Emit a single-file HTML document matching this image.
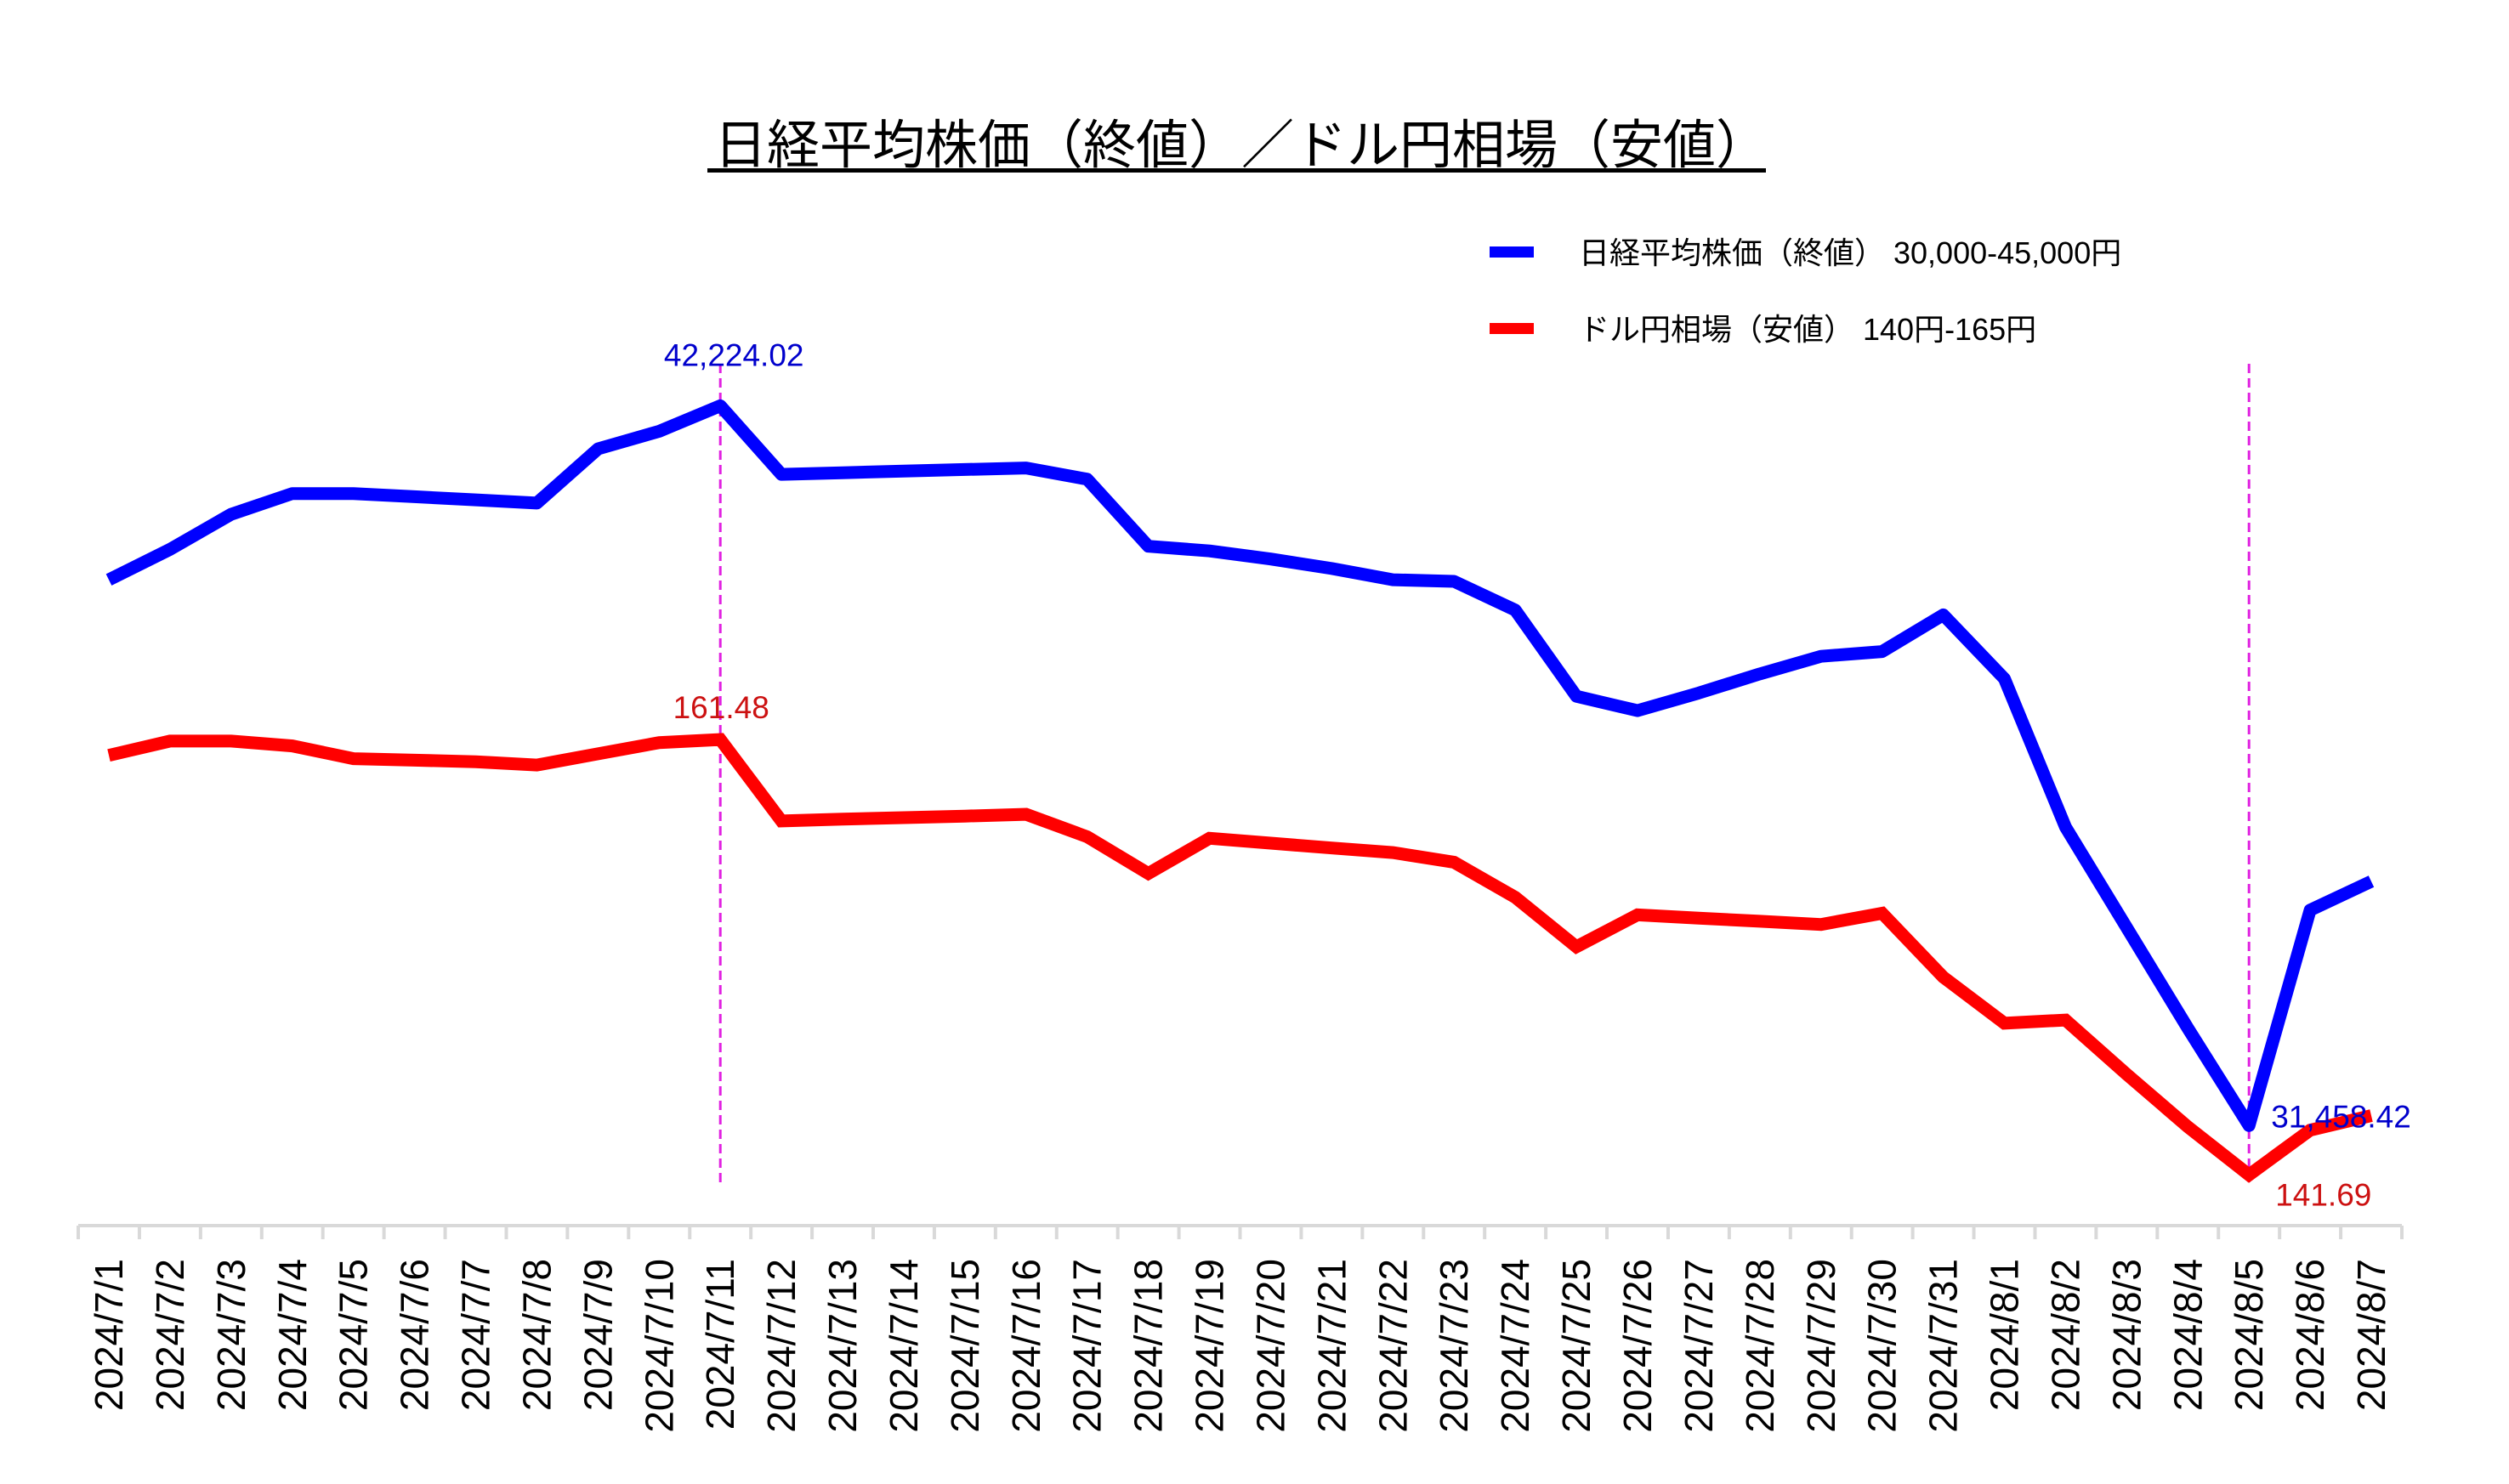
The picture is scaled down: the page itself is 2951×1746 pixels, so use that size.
<!DOCTYPE html>
<html><head><meta charset="utf-8"><style>
html,body{margin:0;padding:0;background:#fff;}
svg{display:block;font-family:"Liberation Sans","Noto Sans CJK JP",sans-serif;}
</style></head><body>
<svg id="chart" width="2951" height="1746" viewBox="0 0 2951 1746" xmlns="http://www.w3.org/2000/svg">
<rect width="2951" height="1746" fill="#fff"/>
<text x="1460" y="192" text-anchor="middle" font-size="62" fill="#000">日経平均株価（終値）／ドル円相場（安値）</text>
<rect x="832" y="198" width="1245" height="5" fill="#000"/>
<g>
<rect x="1752" y="290" width="52" height="13" fill="#0000ff"/>
<text x="1857" y="310" font-size="36" fill="#000">日経平均株価（終値） 30,000-45,000円</text>
<rect x="1752" y="380" width="52" height="13" fill="#ff0000"/>
<text x="1857" y="400" font-size="36" fill="#000">ドル円相場（安値） 140円-165円</text>
</g>
<g id="axis"></g>
<g id="series"></g>
</svg>
<script>
const categories = ["2024/7/1","2024/7/2","2024/7/3","2024/7/4","2024/7/5","2024/7/6","2024/7/7","2024/7/8","2024/7/9","2024/7/10","2024/7/11","2024/7/12","2024/7/13","2024/7/14","2024/7/15","2024/7/16","2024/7/17","2024/7/18","2024/7/19","2024/7/20","2024/7/21","2024/7/22","2024/7/23","2024/7/24","2024/7/25","2024/7/26","2024/7/27","2024/7/28","2024/7/29","2024/7/30","2024/7/31","2024/8/1","2024/8/2","2024/8/3","2024/8/4","2024/8/5","2024/8/6","2024/8/7"];
const nikkei = [39622,40076,40601,40911,40911,40863,40816,40768,41579,41842,42224.02,41198,41222,41246,41270,41293,41126,40123,40052,39932,39789,39622,39598,39168,37879,37664,37927,38213,38476,38548,39097,38142,35922,34418,32914,31458.42,34680,35110];
const usdjpy = [160.76,161.41,161.41,161.19,160.61,160.54,160.47,160.32,160.83,161.34,161.48,157.78,157.86,157.93,158.00,158.08,157.06,155.39,156.99,156.77,156.55,156.34,155.90,154.31,152.06,153.51,153.36,153.22,153.07,153.58,150.68,148.58,148.73,146.26,143.87,141.69,143.72,144.38];
const nikkeiRange = [30000,45000];
const usdjpyRange = [140,165];
const annotations = [{idx:10},{idx:35}];

const NS="http://www.w3.org/2000/svg";
const X0=128, STEP=71.92, AXIS_Y=1442;
function xPos(i){return X0+i*STEP;}
function yNikkei(v){return 1439-(v-nikkeiRange[0])/(nikkeiRange[1]-nikkeiRange[0])*(1439-259);}
function yUsd(v){return 1426-(v-usdjpyRange[0])/(usdjpyRange[1]-usdjpyRange[0])*(1426-779);}
function mk(tag,attrs,parent){const e=document.createElementNS(NS,tag);for(const k in attrs)e.setAttribute(k,attrs[k]);parent.appendChild(e);return e;}
const axis=document.getElementById('axis'), series=document.getElementById('series');

const axLine=mk('line',{x1:X0-STEP/2,x2:xPos(categories.length-1)+STEP/2,y1:AXIS_Y,y2:AXIS_Y,stroke:'#d9d9d9','stroke-width':4},axis);


for(let i=0;i<=categories.length;i++){
  const t=mk('line',{x1:X0+(i-0.5)*STEP,x2:X0+(i-0.5)*STEP,y1:AXIS_Y,y2:AXIS_Y+16,stroke:'#d9d9d9','stroke-width':4},axis);
  
  
}
categories.forEach((c,i)=>{
  const x=xPos(i)+16, y=1481;
  const t=mk('text',{x:x,y:y,'font-size':46,'text-anchor':'end',fill:'#000',transform:`rotate(-90 ${x} ${y})`},axis);
  t.textContent=c;
  
  
});

annotations.forEach(a=>{
  const l=mk('line',{x1:xPos(a.idx),x2:xPos(a.idx),y1:428,y2:1395,stroke:'#e020e0','stroke-width':3,'stroke-dasharray':'11 6'},series);
  
  
});

function path(vals,yf){return vals.map((v,i)=>(i?'L':'M')+xPos(i).toFixed(1)+' '+yf(v).toFixed(1)).join(' ');}
const pr=mk('path',{d:path(usdjpy,yUsd),fill:'none',stroke:'#ff0000','stroke-width':15,'stroke-linejoin':'miter','stroke-miterlimit':3},series);


const pb=mk('path',{d:path(nikkei,yNikkei),fill:'none',stroke:'#0000ff','stroke-width':15,'stroke-linejoin':'round'},series);



function label(txt,x,y,col,anchor,name){
  const t=mk('text',{x:x,y:y,'font-size':37,fill:col,'text-anchor':anchor},series);
  t.textContent=txt;
  
  
}
const iMax=10, iMin=35;
label(nikkei[iMax].toLocaleString('en-US',{minimumFractionDigits:2}),xPos(iMax)+16,yNikkei(nikkei[iMax])-47,'#0000cc','middle','nikkei-high-label');
label(usdjpy[iMax].toFixed(2),xPos(iMax)+1,yUsd(usdjpy[iMax])-25,'#cc1111','middle','usdjpy-high-label');
label(nikkei[iMin].toLocaleString('en-US',{minimumFractionDigits:2}),xPos(iMin)+26,yNikkei(nikkei[iMin])+2,'#0000cc','start','nikkei-low-label');
label(usdjpy[iMin].toFixed(2),xPos(iMin)+31,yUsd(usdjpy[iMin])+36,'#cc1111','start','usdjpy-low-label');
</script>
</body></html>
